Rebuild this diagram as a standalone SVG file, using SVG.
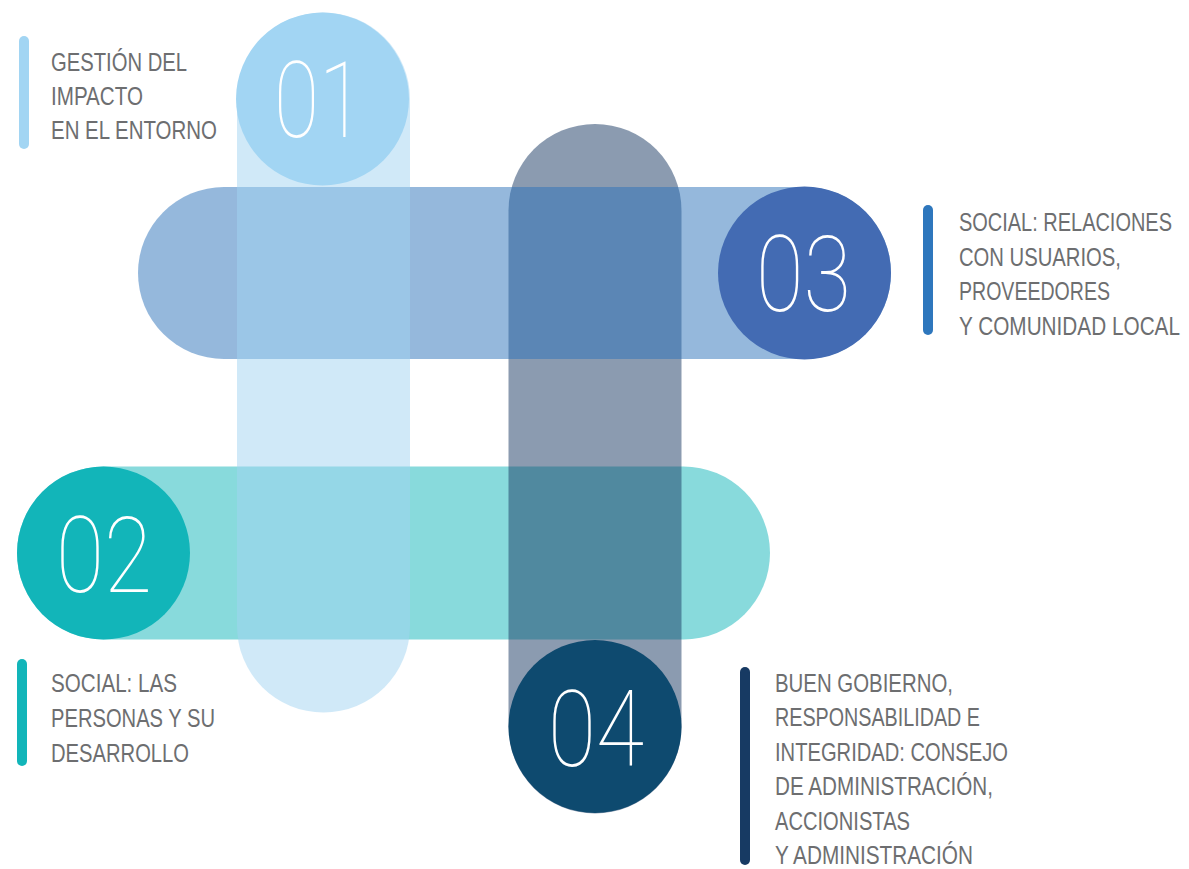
<svg xmlns="http://www.w3.org/2000/svg" width="1189" height="869" viewBox="0 0 1189 869">
<style>
.lbl{font-family:"Liberation Sans Narrow","Liberation Sans",Arial,sans-serif;font-size:21px;fill:#6d6e70}
.num{font-family:"Roboto","Lato","Inter",sans-serif;font-weight:100;font-size:105px;fill:#ffffff}
</style>
<rect width="1189" height="869" fill="#ffffff"/>
<g id="connectors"></g>
<g id="node-02">
<rect x="17" y="466.5" width="753" height="173" rx="86.5" fill="#12b5b9" fill-opacity="0.5"/>
<circle cx="103.5" cy="553" r="86.5" fill="#12b5b9"/>
<text class="num" x="56" y="592" textLength="96" lengthAdjust="spacingAndGlyphs">02</text>
<rect x="17" y="659" width="10" height="107" rx="5" fill="#12b5b9"/>
<text class="lbl" transform="translate(51,692) scale(1,1.262)" textLength="126" lengthAdjust="spacingAndGlyphs">SOCIAL: LAS</text>
<text class="lbl" transform="translate(51,727) scale(1,1.262)" textLength="164" lengthAdjust="spacingAndGlyphs">PERSONAS Y SU</text>
<text class="lbl" transform="translate(51,762) scale(1,1.262)" textLength="138" lengthAdjust="spacingAndGlyphs">DESARROLLO</text>
</g>
<g id="node-04">
<rect x="508.5" y="124" width="173" height="689.5" rx="86.5" fill="#1b3a64" fill-opacity="0.51"/>
<circle cx="595" cy="726.5" r="86.5" fill="#0e4a6f"/>
<text class="num" x="548" y="766" textLength="96" lengthAdjust="spacingAndGlyphs">04</text>
<rect x="740" y="667" width="10" height="198" rx="5" fill="#173a63"/>
<text class="lbl" transform="translate(775,691.5) scale(1,1.262)" textLength="178" lengthAdjust="spacingAndGlyphs">BUEN GOBIERNO,</text>
<text class="lbl" transform="translate(775,726) scale(1,1.262)" textLength="205" lengthAdjust="spacingAndGlyphs">RESPONSABILIDAD E</text>
<text class="lbl" transform="translate(775,760.5) scale(1,1.262)" textLength="233" lengthAdjust="spacingAndGlyphs">INTEGRIDAD: CONSEJO</text>
<text class="lbl" transform="translate(775,795) scale(1,1.262)" textLength="218" lengthAdjust="spacingAndGlyphs">DE ADMINISTRACIÓN,</text>
<text class="lbl" transform="translate(775,829.5) scale(1,1.262)" textLength="135" lengthAdjust="spacingAndGlyphs">ACCIONISTAS</text>
<text class="lbl" transform="translate(775,864) scale(1,1.262)" textLength="198" lengthAdjust="spacingAndGlyphs">Y ADMINISTRACIÓN</text>
</g>
<g id="node-03">
<rect x="138" y="187" width="753" height="172" rx="86" fill="#2b71b9" fill-opacity="0.5"/>
<circle cx="804.5" cy="273" r="86.5" fill="#436bb3"/>
<text class="num" x="756" y="311" textLength="95" lengthAdjust="spacingAndGlyphs">03</text>
<rect x="923" y="205" width="10" height="130" rx="5" fill="#2e77bd"/>
<text class="lbl" transform="translate(959,231) scale(1,1.262)" textLength="213" lengthAdjust="spacingAndGlyphs">SOCIAL: RELACIONES</text>
<text class="lbl" transform="translate(959,266) scale(1,1.262)" textLength="162" lengthAdjust="spacingAndGlyphs">CON USUARIOS,</text>
<text class="lbl" transform="translate(959,300) scale(1,1.262)" textLength="151" lengthAdjust="spacingAndGlyphs">PROVEEDORES</text>
<text class="lbl" transform="translate(959,335) scale(1,1.262)" textLength="221" lengthAdjust="spacingAndGlyphs">Y COMUNIDAD LOCAL</text>
</g>
<g id="node-01">
<rect x="237" y="12.5" width="173" height="700" rx="86.5" fill="#a1d3f1" fill-opacity="0.5"/>
<circle cx="322.5" cy="99" r="86.5" fill="#a2d5f3"/>
<text class="num" x="274" y="137" textLength="90" lengthAdjust="spacingAndGlyphs">01</text>
<rect x="19" y="36" width="10" height="113" rx="5" fill="#a2d5f3"/>
<text class="lbl" transform="translate(51,71) scale(1,1.262)" textLength="136" lengthAdjust="spacingAndGlyphs">GESTIÓN DEL</text>
<text class="lbl" transform="translate(51,105) scale(1,1.262)" textLength="92" lengthAdjust="spacingAndGlyphs">IMPACTO</text>
<text class="lbl" transform="translate(51,139) scale(1,1.262)" textLength="166" lengthAdjust="spacingAndGlyphs">EN EL ENTORNO</text>
</g>
</svg>
